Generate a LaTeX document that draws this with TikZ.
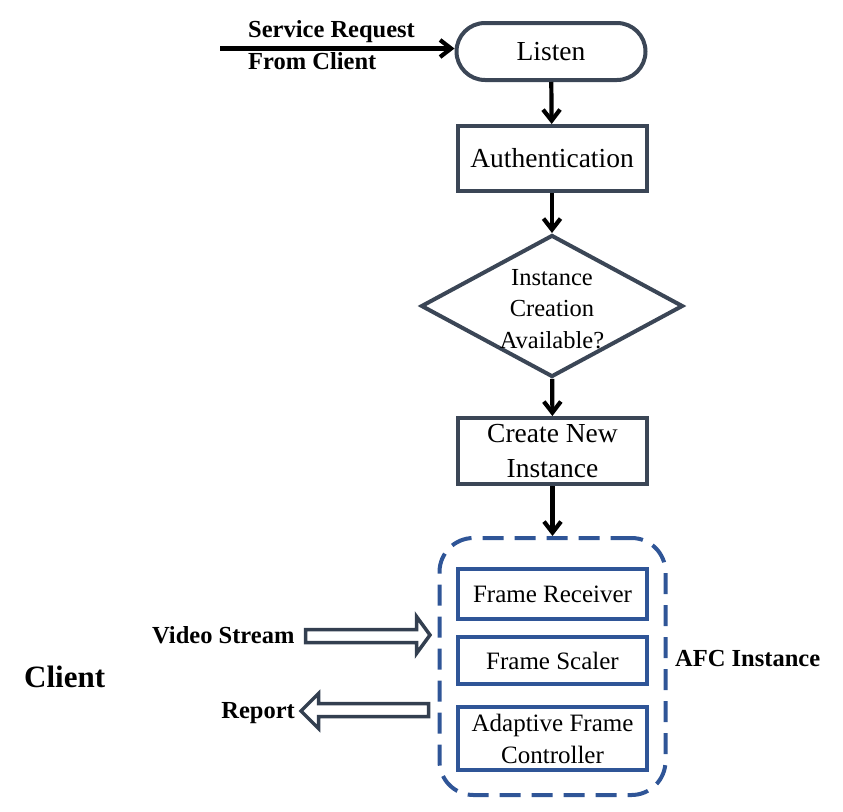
\documentclass[tikz,border=0pt]{standalone}
\usepackage{fontspec}
\setmainfont{Liberation Serif}
\usetikzlibrary{arrows.meta,shapes.geometric}
\definecolor{boxgray}{HTML}{3B4656}
\definecolor{afcblue}{HTML}{2F5597}
\definecolor{fatarrow}{HTML}{333F50}
\begin{document}
\begin{tikzpicture}[x=1pt,y=-1pt,
  procbox/.style={draw=boxgray, line width=4pt, rectangle, minimum width=189pt, inner sep=0pt, align=center, font=\fontsize{27.5}{35}\selectfont},
  termbox/.style={procbox, rounded corners=28.5pt},
  decbox/.style={draw=boxgray, line width=4pt, diamond, minimum width=262pt, minimum height=142pt, inner sep=0pt},
  dectext/.style={align=center, inner sep=0pt, font=\fontsize{24.5}{31.5}\selectfont},
  modbox/.style={draw=afcblue, line width=4.5pt, rectangle, minimum width=189pt, inner sep=0pt, align=center, font=\fontsize{25}{32}\selectfont},
  groupbox/.style={draw=afcblue, line width=4pt, dash pattern=on 21pt off 11pt, rounded corners=34pt, minimum width=226pt, minimum height=257pt, inner sep=0pt},
  lbl/.style={inner sep=0pt, font=\bfseries\fontsize{24.5}{30}\selectfont},
  flow/.style={line width=4.2pt, -{Straight Barb[length=11pt,width=17pt]}},
  fatarr/.style={draw=fatarrow, line width=3.5pt, line join=miter, fill=white}
]
\useasboundingbox (0,0) rectangle (843,811);

\node[termbox, minimum height=57pt] (listen) at (551,51.5) {Listen};
\node[procbox, minimum height=65pt] (auth) at (552,158.5) {Authentication};
\node[decbox] (dec) at (552,306) {};
\node[dectext] (dect) at (552,309) {Instance\\Creation\\Available?};
\node[procbox, minimum height=66pt] (create) at (552.5,451) {Create New\\Instance};
\node[groupbox] (inst) at (552.5,666.5) {};
\node[modbox, minimum height=50pt] (recv) at (552.5,594) {Frame Receiver};
\node[modbox, minimum height=47pt] (scal) at (552.5,660.5) {Frame Scaler};
\node[modbox, minimum height=63pt] (ctrl) at (552.5,738.5) {Adaptive Frame\\Controller};

\node[lbl, anchor=base west] (sr1) at (248,37) {Service Request};
\node[lbl, anchor=base west] (sr2) at (248,69) {From Client};
\node[lbl, anchor=base west] (vs) at (152,643) {Video Stream};
\node[lbl, anchor=base east] (rep) at (295,718) {Report};
\node[lbl, anchor=base west] (afc) at (675,666) {AFC Instance};
\node[inner sep=0pt, font=\bfseries\fontsize{31}{36}\selectfont, anchor=base west] (client) at (24,687) {Client};

\coordinate (svc) at (220,48.5);
\draw[flow] (svc) -- (svc -| listen.west);
\draw[flow] (listen) -- (auth);
\draw[flow] (auth) -- (dec);
\draw[flow] (dec) -- (create);
\draw[flow] (create) -- (inst);

\draw[fatarr] (305.5,629.5) -- (416.5,629.5) -- (416.5,616.5) -- (430,635) -- (416.5,653.5) -- (416.5,642.5) -- (305.5,642.5) -- cycle;
\draw[fatarr] (428.5,703.5) -- (318.5,703.5) -- (318.5,693.5) -- (301,711) -- (318.5,728.5) -- (318.5,716.5) -- (428.5,716.5) -- cycle;
\end{tikzpicture}
\end{document}
